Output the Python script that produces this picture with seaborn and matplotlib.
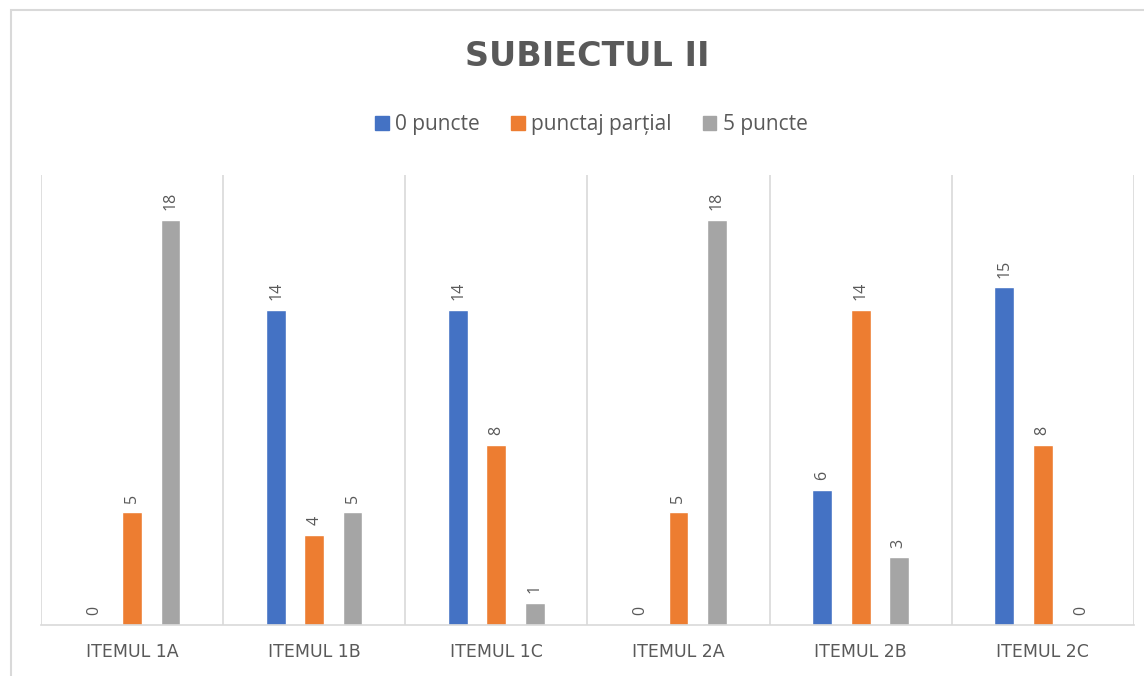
import numpy as np
import pandas as pd
import matplotlib
matplotlib.use("Agg")
import matplotlib.pyplot as plt
from matplotlib.patches import Rectangle
import seaborn as sns

# ==========================================
# DATA
# ==========================================
ITEMS = ['ITEMUL 1A', 'ITEMUL 1B', 'ITEMUL 1C', 'ITEMUL 2A', 'ITEMUL 2B', 'ITEMUL 2C']
SERIES = ['0 puncte', 'punctaj parțial', '5 puncte']
ZERO_PTS = [0, 14, 14, 0, 6, 15]
PARTIAL_PTS = [5, 4, 8, 5, 14, 8]
FIVE_PTS = [18, 5, 1, 18, 3, 0]

COLORS = ['#4472C4', '#ED7D31', '#A5A5A5']
TEXT_GREY = '#595959'
LINE_GREY = '#D9D9D9'

df = pd.DataFrame({
    'item': ITEMS * 3,
    'serie': [SERIES[0]] * 6 + [SERIES[1]] * 6 + [SERIES[2]] * 6,
    'valoare': ZERO_PTS + PARTIAL_PTS + FIVE_PTS,
})

sns.set_style('white')
plt.rcParams['font.family'] = ['Open Sans', 'DejaVu Sans']

fig = plt.figure(figsize=(11.44, 6.76), dpi=100)
ax = fig.add_axes([0.036, 0.0754, 0.955, 0.666])

sns.barplot(data=df, x='item', y='valoare', hue='serie', palette=COLORS,
            width=0.63, gap=0.48, ax=ax, saturation=1, errorbar=None)

for cont in ax.containers:
    ax.bar_label(cont, rotation=90, padding=7, fontsize=11.5, color=TEXT_GREY)

ax.set_xlim(-0.5, len(ITEMS) - 0.5)
ax.set_ylim(0, 20)
ax.set_yticks([])
ax.set_xlabel('')
ax.set_ylabel('')
ax.set_xticks(range(len(ITEMS)))
ax.set_xticklabels(ITEMS, fontsize=12.5, color=TEXT_GREY, family='DejaVu Sans')
ax.tick_params(axis='x', length=0, pad=13)

# vertical separators between categories
ax.set_xticks(np.arange(-0.5, len(ITEMS), 1), minor=True)
ax.tick_params(axis='x', which='minor', length=0)
ax.grid(which='minor', axis='x', color=LINE_GREY, lw=1.2)
ax.grid(which='major', visible=False)

for s in ['top', 'right', 'left']:
    ax.spines[s].set_visible(False)
ax.spines['bottom'].set_color(LINE_GREY)
ax.spines['bottom'].set_linewidth(1.2)

ax.legend_.remove()
handles = [plt.Rectangle((0, 0), 1, 1, color=c) for c in COLORS]
fig.legend(handles, SERIES, loc='center', bbox_to_anchor=(0.517, 0.816), ncol=3,
           frameon=False, fontsize=15, handlelength=0.65, handleheight=0.65,
           handletextpad=0.3, columnspacing=1.5, labelcolor=TEXT_GREY)

fig.text(0.513, 0.916, 'SUBIECTUL II', ha='center', va='center', fontsize=24,
         fontweight='bold', color=TEXT_GREY, family='DejaVu Sans')

# chart border
fig.patches.append(Rectangle((0.0096, -0.1), 1.2, 1.085, transform=fig.transFigure,
                             fill=False, edgecolor=LINE_GREY, lw=1.5))

fig.savefig('out.png', dpi=100)
